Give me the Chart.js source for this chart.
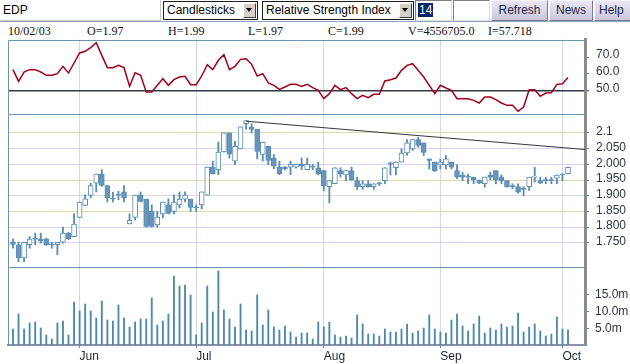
<!DOCTYPE html>
<html><head><meta charset="utf-8">
<script src="https://cdn.jsdelivr.net/npm/chart.js@4.4.1/dist/chart.umd.min.js"></script>
<style>
body{margin:0;background:#fff;}
#w{position:relative;width:630px;height:364px;overflow:hidden;background:#fff;font-family:'Liberation Sans',Arial,sans-serif;}
.a{position:absolute;box-sizing:border-box;font-size:12px;white-space:nowrap;}
.inp{top:0;height:21px;background:#fff;border:1px solid #c8c8c8;line-height:19px;padding-left:2px;color:#000;}
.sel{top:1px;height:19px;border:1px solid #1e1e1e;background:#fff;padding-left:3px;line-height:17px;color:#000;}
.arr{position:absolute;right:1px;top:1px;width:13px;height:15px;background:#d4d0c8;border:1px solid;border-color:#fff #404040 #404040 #fff;box-sizing:border-box;}
.arr:after{content:'';position:absolute;left:2px;top:4px;border-left:3.5px solid transparent;border-right:3.5px solid transparent;border-top:4px solid #000;}
.btn{top:0;height:21px;background:linear-gradient(#e9e7f3,#cbc7dc);border:1px solid;border-color:#f4f4fa #7a7890 #7a7890 #f4f4fa;text-align:center;line-height:19px;color:#1e2a50;}
.hl{background:#0a246a;color:#fff;padding:0 1px;}
.inf{top:24px;height:15px;line-height:15px;font-family:'Liberation Serif','Times New Roman',serif;font-size:12px;color:#111;}
canvas{position:absolute;left:0;}
</style></head>
<body><div id="w">
<div class="a inp" style="left:0;width:161px;border-color:#fff #c8c8c8 #c8c8c8 #fff;">EDP</div>
<div class="a sel" style="left:163px;width:95px;">Candlesticks<div class="arr"></div></div>
<div class="a sel" style="left:262px;width:152px;">Relative Strength Index<div class="arr"></div></div>
<div class="a inp" style="left:415px;width:37px;border-color:#808080 #e0e0e0 #e0e0e0 #808080;"><span class="hl">14</span></div>
<div class="a inp" style="left:453px;width:37px;border-color:#808080 #e0e0e0 #e0e0e0 #808080;"></div>
<div class="a btn" style="left:491px;width:57px;">Refresh</div>
<div class="a btn" style="left:549px;width:44px;">News</div>
<div class="a btn" style="left:594px;width:40px;text-align:left;padding-left:4px;">Help</div>
<div class="a" style="left:0;top:21px;width:630px;height:1px;background:#8ea6bd;"></div>
<div id="info"></div>
<canvas id="rsiC" width="630" height="78" style="top:38px"></canvas>
<canvas id="priceC" width="630" height="154" style="top:114px"></canvas>
<canvas id="volC" width="630" height="97" style="top:267px"></canvas>
</div>
<script>
// ---------------- DATA ----------------
const dates = [
'05/15/03','05/16/03','05/19/03','05/20/03','05/21/03','05/22/03','05/23/03','05/26/03','05/27/03','05/28/03','05/29/03','05/30/03',
'06/02/03','06/03/03','06/04/03','06/05/03','06/06/03','06/09/03','06/10/03','06/11/03','06/12/03','06/13/03','06/16/03','06/17/03','06/18/03','06/19/03','06/20/03','06/23/03','06/24/03','06/25/03','06/26/03','06/27/03','06/30/03',
'07/01/03','07/02/03','07/03/03','07/04/03','07/07/03','07/08/03','07/09/03','07/10/03','07/11/03','07/14/03','07/15/03','07/16/03','07/17/03','07/18/03','07/21/03','07/22/03','07/23/03','07/24/03','07/25/03','07/28/03','07/29/03','07/30/03','07/31/03',
'08/01/03','08/04/03','08/05/03','08/06/03','08/07/03','08/08/03','08/11/03','08/12/03','08/13/03','08/14/03','08/15/03','08/18/03','08/19/03','08/20/03','08/21/03','08/22/03','08/25/03','08/26/03','08/27/03','08/28/03','08/29/03',
'09/01/03','09/02/03','09/03/03','09/04/03','09/05/03','09/08/03','09/09/03','09/10/03','09/11/03','09/12/03','09/15/03','09/16/03','09/17/03','09/18/03','09/19/03','09/22/03','09/23/03','09/24/03','09/25/03','09/26/03','09/29/03','09/30/03',
'10/01/03','10/02/03'];
const open = [1.753,1.744,1.702,1.744,1.762,1.762,1.762,1.744,1.744,1.752,1.781,1.770,
1.831,1.869,1.901,1.940,1.969,1.932,1.889,1.902,1.912,1.810,1.831,1.902,1.889,1.850,1.807,1.842,1.871,1.850,1.871,1.889,1.889,
1.861,1.871,1.902,1.991,1.983,2.039,2.100,2.010,2.049,2.129,2.119,2.111,2.031,2.057,2.020,1.991,1.991,1.991,1.991,2.000,1.983,1.991,1.989,
1.980,1.929,1.938,1.980,1.966,1.980,1.948,1.929,1.938,1.929,1.938,1.948,2.000,1.989,2.007,2.036,2.049,2.079,2.068,2.017,2.007,
1.998,1.998,2.007,1.980,1.966,1.959,1.959,1.948,1.938,1.966,1.980,1.959,1.948,1.929,1.929,1.920,1.929,1.959,1.948,1.948,1.948,1.956,
1.966,1.970];
const high = [1.763,1.752,1.752,1.770,1.781,1.781,1.765,1.752,1.752,1.800,1.784,1.842,
1.880,1.903,1.940,1.969,1.983,1.932,1.911,1.914,1.932,1.842,1.902,1.912,1.889,1.871,1.850,1.880,1.890,1.903,1.912,1.912,1.889,
1.871,1.912,1.991,2.010,2.071,2.100,2.100,2.073,2.119,2.139,2.129,2.111,2.071,2.057,2.031,2.010,1.993,2.010,2.000,2.020,2.020,2.000,2.007,
1.980,1.948,1.989,1.989,1.980,1.991,1.959,1.948,1.948,1.938,1.943,1.989,2.007,2.007,2.049,2.079,2.079,2.086,2.068,2.017,2.007,
2.017,2.028,2.007,1.998,1.975,1.969,1.959,1.950,1.959,1.975,1.980,1.966,1.948,1.938,1.938,1.929,1.959,1.990,1.959,1.959,1.959,1.966,
1.970,1.990];
const low = [1.733,1.690,1.690,1.733,1.744,1.749,1.742,1.733,1.712,1.749,1.760,1.770,
1.831,1.869,1.893,1.912,1.930,1.880,1.880,1.887,1.880,1.810,1.823,1.880,1.800,1.800,1.800,1.829,1.842,1.842,1.861,1.880,1.850,
1.850,1.858,1.902,1.969,1.967,2.039,2.020,1.999,2.049,2.111,2.100,2.017,2.010,1.999,1.986,1.967,1.982,1.967,1.988,1.983,1.983,1.983,1.966,
1.916,1.877,1.938,1.959,1.948,1.948,1.920,1.920,1.927,1.920,1.932,1.938,1.966,1.966,2.007,2.028,2.044,2.054,2.028,1.985,1.977,
1.985,1.985,1.985,1.954,1.948,1.938,1.938,1.938,1.927,1.950,1.938,1.938,1.927,1.922,1.908,1.900,1.916,1.943,1.938,1.938,1.938,1.938,
1.948,1.970];
const close = [1.745,1.703,1.752,1.762,1.762,1.755,1.744,1.744,1.752,1.781,1.763,1.810,
1.880,1.890,1.932,1.969,1.933,1.893,1.889,1.902,1.893,1.822,1.902,1.882,1.802,1.802,1.832,1.880,1.844,1.880,1.889,1.902,1.863,
1.861,1.912,1.991,1.969,2.039,2.100,2.033,2.057,2.119,2.139,2.111,2.041,2.071,2.012,1.994,1.970,1.985,2.000,2.000,1.994,2.000,1.991,1.970,
1.932,1.948,1.989,1.969,1.980,1.950,1.929,1.938,1.929,1.938,1.938,1.989,2.000,2.007,2.036,2.068,2.079,2.060,2.038,2.012,1.980,
2.007,2.017,1.991,1.959,1.959,1.959,1.950,1.940,1.959,1.959,1.950,1.948,1.929,1.929,1.911,1.920,1.959,1.962,1.940,1.948,1.948,1.966,
1.966,1.990];
const volumeM = [4.8,9.3,4.8,6.6,6.9,5.1,3.0,1.8,6.6,7.2,
3.0,12.9,10.2,12.3,10.2,8.1,13.2,7.5,7.2,12.0,
8.1,5.4,6.9,7.8,7.8,14.1,6.0,7.2,9.3,20.7,
17.7,18.0,15.0,3.0,6.6,17.7,9.9,22.2,10.5,7.8,
5.4,12.3,4.5,4.2,15.0,6.0,10.5,5.4,4.5,5.7,
3.9,2.4,3.6,3.6,1.8,6.9,5.4,6.9,3.0,2.4,
2.7,2.1,9.0,6.3,3.3,3.3,2.7,4.8,3.9,3.9,
4.8,6.3,3.6,4.2,5.1,9.0,4.8,3.9,3.6,7.5,
9.3,5.7,4.2,6.3,8.7,3.6,5.1,4.5,6.3,5.4,
5.7,9.6,3.9,5.4,6.3,4.2,2.7,3.3,8.4,4.8,
4.556705];
const rsi = [62.4,55.4,61,62.4,62.4,61,59,59,60,64.4,
60.4,66.4,72.4,73.4,75.6,78.6,71,63.6,63.6,65,
63.6,52.4,60.6,59,49,49,53,57,53,56.4,
58,58.4,53.4,53.4,58.6,65.4,62.4,68,71.4,62.4,
64.4,68.6,69,65.6,58.6,60,54.4,53,50.6,52,
53.6,53.6,52.4,53.6,51.6,50,45,48,53,50.4,
51.6,48,45,47,45.6,47.6,47.6,55.6,56.4,57.4,
62,65,66,62,58,53,48,53,51.4,50,
45,45,45,44,42.4,46,46,44.4,42.4,41,
41,37.4,40,50.4,50.4,46.4,48.4,48.6,53.6,54,
57.718];
const trendX = [42, 103.06];
const trendY = [2.137, 2.047];
const priceTicks = [1.75,1.8,1.85,1.9,1.95,2.0,2.05,2.1];
const priceTickLabels = ['1.750','1.800','1.850','1.900','1.950','2.000','2.050','2.1'];
const rsiTicks = [50,60,70];
const rsiLevel = 50;
const volTicks = [5,10,15];
const MONTHS = ['Jan','Feb','Mar','Apr','May','Jun','Jul','Aug','Sep','Oct','Nov','Dec'];

// ---------------- STYLE ----------------
const N = dates.length, L = N - 1;
const XMIN = -0.9, XMAX = 103.06;
const BLUE = '#5a8cb4', FILL = '#6a95bb', VOLC = '#4c89a9', TICKC = '#4f8fa8';
const gridCols = ['#d4d4f4','#d4d4f4','#dcdcae','#d8d8e6','#dcdcae','#d4d4f4','#d4d4f4','#dcdcae'];

// info row
const info = [dates[L], 'O=' + open[L].toFixed(2), 'H=' + high[L].toFixed(2), 'L=' + low[L].toFixed(2),
  'C=' + close[L].toFixed(2), 'V=' + (volumeM[L] * 1e6).toFixed(1), 'I=' + rsi[L].toFixed(3)];
const infoX = [8, 87, 168, 248, 328, 408, 488];
document.getElementById('info').innerHTML = info.map((t, i) =>
  '<div class="a inf" style="left:' + infoX[i] + 'px">' + t + '</div>').join('');

// month ticks from the dates
const monthIdx = [], monthLab = [];
for (let i = 1; i < N; i++) {
  const m = dates[i].slice(0, 2);
  if (m !== dates[i - 1].slice(0, 2)) { monthIdx.push(i); monthLab.push(MONTHS[+m - 1]); }
}

Chart.defaults.font.family = "'Liberation Sans', Arial, sans-serif";
Chart.defaults.font.size = 12;
Chart.defaults.color = '#2d3446';

const frame = {
  id: 'frame',
  afterDraw(c) {
    const { ctx, chartArea: a } = c;
    ctx.save();
    ctx.strokeStyle = '#6b93b3'; ctx.lineWidth = 1;
    ctx.beginPath();
    ctx.moveTo(Math.round(a.left) + 0.5, a.bottom);
    ctx.lineTo(Math.round(a.left) + 0.5, Math.round(a.top) + 0.5);
    ctx.lineTo(a.right, Math.round(a.top) + 0.5);
    ctx.stroke();
    ctx.restore();
  }
};

function noPad(s) { s.paddingTop = 0; s.paddingBottom = 0; s.paddingLeft = 0; s.paddingRight = 0; }

function xScale(show) {
  return {
    type: 'linear', min: XMIN, max: XMAX, offset: false,
    afterBuildTicks: s => { s.ticks = monthIdx.map(v => ({ value: v })); },
    grid: { color: '#d5d5f1', offset: false, drawTicks: show, tickLength: 3, tickColor: TICKC, lineWidth: 1 },
    border: { display: show, color: '#8e90a8', width: 2 },
    ticks: { display: show, autoSkip: false, maxRotation: 0, minRotation: 0, align: 'start', padding: 1.5, color: '#1e2230',
      callback: v => { const k = monthIdx.indexOf(v); return k >= 0 ? monthLab[k] : ''; } },
    afterFit: s => { s.height = show ? 19 : 0; noPad(s); }
  };
}
function yScale(min, max, ticks, extra) {
  return Object.assign({
    position: 'right', min: min, max: max,
    afterBuildTicks: s => { s.ticks = ticks.map(v => ({ value: v })); },
    border: { display: true, color: '#8b8b8b', width: 3 },
    afterFit: s => { s.width = 45; noPad(s); }
  }, extra);
}
const common = {
  responsive: false, animation: false, events: [],
  plugins: { legend: { display: false }, tooltip: { enabled: false } }
};

// RSI panel
new Chart(document.getElementById('rsiC'), {
  type: 'line',
  data: { datasets: [{ data: rsi.map((v, i) => ({ x: i, y: v })), borderColor: '#a0001c', borderWidth: 1.5,
    pointRadius: 0, tension: 0, fill: false }] },
  options: Object.assign({}, common, {
    layout: { padding: { left: 8, right: 0, top: 1.5, bottom: 2 } },
    scales: {
      x: xScale(false),
      y: yScale(35.8, 80.5, rsiTicks, {
        grid: { color: c => (c.tick && c.tick.value === rsiLevel) ? '#2f3a42' : 'rgba(0,0,0,0)',
                lineWidth: c => (c.tick && c.tick.value === rsiLevel) ? 1.5 : 1,
                tickColor: TICKC, tickLength: 4 },
        ticks: { callback: v => v.toFixed(1), padding: 7, labelOffset: -2, crossAlign: 'near', color: '#2d3446' }
      })
    }
  }),
  plugins: [frame]
});

// Price panel
const bodyData = close.map((c, i) => ({ x: i, y: [open[i], c] }));
const wickData = high.map((h, i) => ({ x: i, y: [low[i], h] }));
const bodyBg = close.map((c, i) => c > open[i] ? '#ffffff' : FILL);
new Chart(document.getElementById('priceC'), {
  type: 'bar',
  data: { datasets: [
    { data: bodyData, backgroundColor: bodyBg, borderColor: BLUE, borderWidth: 1, borderSkipped: false,
      barThickness: 5, grouped: false, minBarLength: 1, order: 0 },
    { data: wickData, backgroundColor: BLUE, borderWidth: 0, barThickness: 1.2, grouped: false, order: 1 },
    { type: 'line', data: trendX.map((x, i) => ({ x: x, y: trendY[i] })), borderColor: '#33373c', borderWidth: 1,
      pointRadius: 0, fill: false, order: -1 }
  ] },
  options: Object.assign({}, common, {
    layout: { padding: { left: 8, right: 0, top: 0, bottom: 0 } },
    scales: {
      x: xScale(false),
      y: yScale(1.670, 2.160, priceTicks, {
        grid: { color: c => c.tick ? (gridCols[priceTicks.indexOf(c.tick.value)] || '#d4d4f4') : '#d4d4f4',
                tickColor: TICKC, tickLength: 4 },
        ticks: { callback: v => { const k = priceTicks.indexOf(v); return k >= 0 ? priceTickLabels[k] : ''; },
                 padding: 7, labelOffset: -1, crossAlign: 'near', color: '#2d3446' }
      })
    }
  }),
  plugins: [frame]
});

// Volume panel
new Chart(document.getElementById('volC'), {
  type: 'bar',
  data: { datasets: [{ data: volumeM.map((v, i) => ({ x: i, y: v })), backgroundColor: VOLC, borderWidth: 0,
    barThickness: 1.2, grouped: false }] },
  options: Object.assign({}, common, {
    layout: { padding: { left: 8, right: 0, top: 0, bottom: 0 } },
    scales: {
      x: xScale(true),
      y: yScale(0, 23.4, volTicks, {
        grid: { drawOnChartArea: false, tickColor: TICKC, tickLength: 4 },
        ticks: { callback: v => v.toFixed(1) + 'm', padding: 6, crossAlign: 'near', color: '#2d3446' }
      })
    }
  }),
  plugins: [frame]
});
</script>
</body></html>
